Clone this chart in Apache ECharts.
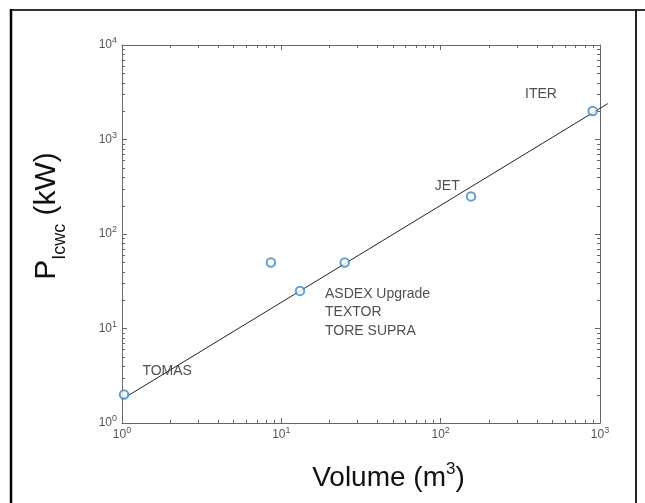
<!DOCTYPE html>
<html>
<head>
<meta charset="utf-8">
<title>ICWC power versus plasma volume</title>
<script src="https://cdn.jsdelivr.net/npm/echarts@6/dist/echarts.min.js"></script>
<style>
  html, body { margin: 0; padding: 0; background: #fff; }
  #chart { width: 645px; height: 503px; }
</style>
</head>
<body>
<div id="chart"></div>
<script>
// Machine data: plasma volume (m^3) and ICWC power (kW)
const volumes = [1.03, 8.6, 13.1, 25, 155, 900];
const powers = [2, 50, 25, 50, 250, 2000];

// Power-law fit drawn as a straight line on log-log axes
const fitVolume = [1, 1120];
const fitPower = [1.78, 2400];

// Machine names and where their labels sit (data coordinates)
const noteNames = ['ITER', 'JET', 'ASDEX Upgrade', 'TEXTOR', 'TORE SUPRA', 'TOMAS'];
const noteVolume = [426, 110, 18.8, 18.8, 18.8, 1.92];
const notePower = [3030, 322, 23.2, 15.0, 9.4, 3.55];
const noteLeftAligned = [false, false, true, true, true, false];

// Axis ranges (decades)
const xRange = [1, 1000];
const yRange = [1, 10000];

const FONT = '"Liberation Sans", Arial, Helvetica, sans-serif';

// Minor tick positions 2..9 within each decade
function minorTicks(lo, hi) {
  const out = [];
  for (let d = lo; d < hi; d *= 10) {
    for (let k = 2; k <= 9; k++) out.push(d * k);
  }
  return out;
}
const xMinor = minorTicks(xRange[0], xRange[1]);
const yMinor = minorTicks(yRange[0], yRange[1]);

function powLabel(v) {
  const e = Math.round(Math.log10(v));
  return '{b|10}{s|' + e + '}';
}
const tickRich = {
  b: { fontSize: 12, color: '#555', fontFamily: FONT, lineHeight: 17 },
  s: { fontSize: 9, color: '#555', fontFamily: FONT, lineHeight: 17, verticalAlign: 'top' }
};

const axisLineStyle = { color: '#666', width: 1 };

const chart = echarts.init(document.getElementById('chart'), null, { renderer: 'canvas' });

function tickRenderer(isX) {
  return function (params, api) {
    const cs = params.coordSys;
    const v = api.value(isX ? 0 : 1);
    const len = 3;
    const style = { stroke: '#666', lineWidth: 1 };
    if (isX) {
      const p = api.coord([v, yRange[0]]);
      const x = Math.round(p[0]) + 0.5;
      return {
        type: 'group',
        children: [
          { type: 'line', shape: { x1: x, y1: cs.y + cs.height, x2: x, y2: cs.y + cs.height - len }, style: style },
          { type: 'line', shape: { x1: x, y1: cs.y, x2: x, y2: cs.y + len }, style: style }
        ]
      };
    }
    const p = api.coord([xRange[0], v]);
    const y = Math.round(p[1]) + 0.5;
    return {
      type: 'group',
      children: [
        { type: 'line', shape: { x1: cs.x, y1: y, x2: cs.x + len, y2: y }, style: style },
        { type: 'line', shape: { x1: cs.x + cs.width, y1: y, x2: cs.x + cs.width - len, y2: y }, style: style }
      ]
    };
  };
}

// The fit line runs slightly past the right edge of the axes box
function fitRenderer(params, api) {
  if (params.dataIndex !== 0) return null;
  const a = api.coord([fitVolume[0], fitPower[0]]);
  const b = api.coord([fitVolume[1], fitPower[1]]);
  return {
    type: 'line',
    shape: { x1: a[0], y1: a[1], x2: b[0], y2: b[1] },
    style: { stroke: '#222', lineWidth: 1 }
  };
}

const option = {
  backgroundColor: '#fff',
  animation: false,
  textStyle: { fontFamily: FONT },
  grid: { left: 122, right: 45, top: 45, bottom: 80, containLabel: false },
  xAxis: [
    {
      type: 'log', logBase: 10, min: xRange[0], max: xRange[1],
      position: 'bottom',
      name: '{t|Volume (m}{s|3}{t|)}',
      nameLocation: 'middle',
      nameGap: 38,
      nameTextStyle: {
        padding: [0, 0, 0, 55],
        rich: {
          t: { fontSize: 28, color: '#111', fontFamily: FONT, lineHeight: 34 },
          s: { fontSize: 17, color: '#111', fontFamily: FONT, lineHeight: 34, verticalAlign: 'top' }
        }
      },
      axisLine: { show: true, lineStyle: axisLineStyle },
      axisTick: { show: true, inside: true, length: 5, lineStyle: axisLineStyle },
      minorTick: { show: false },
      splitLine: { show: false },
      axisLabel: { formatter: powLabel, rich: tickRich, margin: 3, showMinLabel: true, showMaxLabel: true }
    },
    {
      type: 'log', logBase: 10, min: xRange[0], max: xRange[1],
      position: 'top',
      axisLine: { show: true, lineStyle: axisLineStyle },
      axisTick: { show: true, inside: true, length: 5, lineStyle: axisLineStyle },
      axisLabel: { show: false },
      splitLine: { show: false }
    }
  ],
  yAxis: [
    {
      type: 'log', logBase: 10, min: yRange[0], max: yRange[1],
      position: 'left',
      name: '{p|P}{sub|Icwc}{p| (kW)}',
      nameLocation: 'middle',
      nameRotate: 90,
      nameGap: 53,
      nameTextStyle: {
        padding: [0, 0, 0, 36],
        rich: {
          p: { fontSize: 30, color: '#111', fontFamily: FONT, lineHeight: 34 },
          sub: { fontSize: 18, color: '#111', fontFamily: FONT, lineHeight: 44, verticalAlign: 'bottom' }
        }
      },
      axisLine: { show: true, lineStyle: axisLineStyle },
      axisTick: { show: true, inside: true, length: 5, lineStyle: axisLineStyle },
      splitLine: { show: false },
      axisLabel: { formatter: powLabel, rich: tickRich, margin: 5, showMinLabel: true, showMaxLabel: true }
    },
    {
      type: 'log', logBase: 10, min: yRange[0], max: yRange[1],
      position: 'right',
      axisLine: { show: true, lineStyle: axisLineStyle },
      axisTick: { show: true, inside: true, length: 5, lineStyle: axisLineStyle },
      axisLabel: { show: false },
      splitLine: { show: false }
    }
  ],
  graphic: [
    // outer frame
    { type: 'line', shape: { x1: 10, y1: 10, x2: 645, y2: 10 }, style: { stroke: '#333', lineWidth: 2 } },
    { type: 'line', shape: { x1: 11, y1: 9, x2: 11, y2: 503 }, style: { stroke: '#000', lineWidth: 2.5 } },
    { type: 'line', shape: { x1: 636, y1: 9, x2: 636, y2: 503 }, style: { stroke: '#222', lineWidth: 2 } }
  ],
  series: [
    {
      type: 'custom',
      name: 'xMinorTicks',
      xAxisIndex: 0, yAxisIndex: 0,
      silent: true,
      renderItem: tickRenderer(true),
      data: xMinor.map(v => [v, yRange[0]]),
      z: 1
    },
    {
      type: 'custom',
      name: 'yMinorTicks',
      xAxisIndex: 0, yAxisIndex: 0,
      silent: true,
      renderItem: tickRenderer(false),
      data: yMinor.map(v => [xRange[0], v]),
      z: 1
    },
    {
      type: 'custom',
      name: 'fit',
      xAxisIndex: 0, yAxisIndex: 0,
      silent: true,
      clip: false,
      renderItem: fitRenderer,
      data: fitVolume.map((v, i) => [v, fitPower[i]]),
      z: 2
    },
    {
      type: 'scatter',
      name: 'machines',
      data: volumes.map((v, i) => [v, powers[i]]),
      symbol: 'emptyCircle',
      symbolSize: 8.5,
      itemStyle: { color: '#3a86c6', borderColor: '#3a86c6', borderWidth: 1.1 },
      clip: false,
      z: 3
    },
    {
      type: 'scatter',
      name: 'labels',
      data: noteNames.map((n, i) => ({
        name: n,
        value: [noteVolume[i], notePower[i]],
        label: { align: noteLeftAligned[i] ? 'left' : 'center' }
      })),
      symbolSize: 1,
      itemStyle: { color: 'transparent' },
      silent: true,
      label: {
        show: true,
        position: 'inside',
        formatter: '{b}',
        fontSize: 14,
        color: '#222',
        fontFamily: FONT,
        verticalAlign: 'middle'
      },
      z: 4
    }
  ]
};

chart.setOption(option);
</script>
</body>
</html>
